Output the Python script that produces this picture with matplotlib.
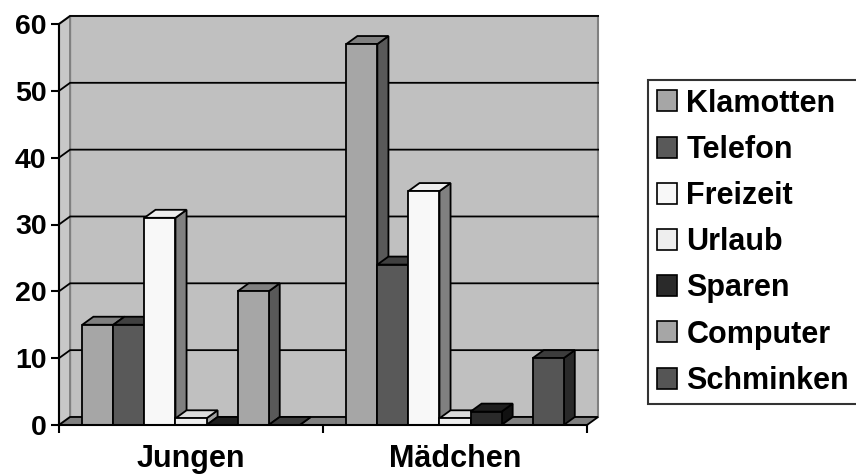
import matplotlib.pyplot as plt
from matplotlib.patches import Polygon, Patch

plt.rcParams['font.family'] = ['Liberation Sans', 'DejaVu Sans']
plt.rcParams['font.weight'] = 'bold'

# survey data: what boys and girls spend their money on
categories = ['Jungen', 'Mädchen']
series = ['Klamotten', 'Telefon', 'Freizeit', 'Urlaub', 'Sparen', 'Computer', 'Schminken']
values = {
    'Klamotten': [15, 57],
    'Telefon':   [15, 24],
    'Freizeit':  [31, 35],
    'Urlaub':    [1, 1],
    'Sparen':    [0, 2],
    'Computer':  [20, 0],
    'Schminken': [0, 10],
}
yticks = [0, 10, 20, 30, 40, 50, 60]

# (front, top, side) shades for each series
shades = {
    'Klamotten': ('#a6a6a6', '#808080', '#595959'),
    'Telefon':   ('#595959', '#404040', '#2e2e2e'),
    'Freizeit':  ('#f8f8f8', '#eeeeee', '#808080'),
    'Urlaub':    ('#eeeeee', '#dcdcdc', '#a0a0a0'),
    'Sparen':    ('#2a2a2a', '#1e1e1e', '#111111'),
    'Computer':  ('#a6a6a6', '#808080', '#595959'),
    'Schminken': ('#555555', '#3c3c3c', '#2a2a2a'),
}

fig = plt.figure(figsize=(8.56, 4.75), dpi=100)
ax = fig.add_axes([59 / 856, 50 / 475, 528 / 856, 401 / 475])
ax.set_xlim(0, 2)
ax.set_ylim(0, 60)

# depth of the pseudo-3d extrusion in data units
dx, dy = 0.042, 1.2
ymax = 60
xmax = len(categories)
edge = dict(edgecolor='black', linewidth=1.3, clip_on=False)

# back wall, side wall and floor
ax.add_patch(Polygon([(dx, dy), (xmax + dx, dy), (xmax + dx, ymax + dy), (dx, ymax + dy)],
                     facecolor='#c0c0c0', edgecolor='#808080', linewidth=1.5,
                     clip_on=False, zorder=0))
ax.add_patch(Polygon([(0, 0), (dx, dy), (dx, ymax + dy), (0, ymax)],
                     facecolor='#c8c8c8', edgecolor='#808080', linewidth=1.5,
                     clip_on=False, zorder=0))
ax.add_patch(Polygon([(0, 0), (xmax, 0), (xmax + dx, dy), (dx, dy)],
                     facecolor='#808080', edgecolor='black', linewidth=1.3,
                     clip_on=False, zorder=0.5))

# gridlines across side wall and back wall
for v in yticks[1:]:
    ax.plot([0, dx, xmax + dx], [v, v + dy, v + dy], color='black',
            linewidth=1.3, zorder=0.3, clip_on=False)

n = len(series)
w = 1 / (n + 1.5)
for j in range(len(categories)):
    for i, name in enumerate(series):
        v = values[name][j]
        front, top, side = shades[name]
        x0 = j + 0.75 * w + i * w
        x1 = x0 + w
        z = 2 + j * 10 + i
        ax.add_patch(Polygon([(x1, 0), (x1 + dx, dy), (x1 + dx, v + dy), (x1, v)],
                             facecolor=side, zorder=z, **edge))
        ax.add_patch(Polygon([(x0, v), (x1, v), (x1 + dx, v + dy), (x0 + dx, v + dy)],
                             facecolor=top, zorder=z, **edge))
        ax.add_patch(Polygon([(x0, 0), (x1, 0), (x1, v), (x0, v)],
                             facecolor=front, zorder=z, **edge))

# axes lines and ticks
for s in ['top', 'right']:
    ax.spines[s].set_visible(False)
ax.spines['left'].set_linewidth(1.5)
ax.spines['bottom'].set_linewidth(1.5)
ax.spines['left'].set_zorder(50)
ax.spines['bottom'].set_zorder(50)
ax.patch.set_visible(False)
ax.set_yticks(yticks)
ax.set_yticklabels([str(t) for t in yticks], fontsize=20.5, fontweight='bold')
ax.set_xticks(range(xmax + 1))
ax.set_xticklabels([])
ax.set_xticks([j + 0.5 for j in range(xmax)], minor=True)
ax.set_xticklabels(categories, minor=True, fontsize=22, fontweight='bold')
ax.tick_params(axis='y', direction='out', length=6, width=1.5, pad=3)
ax.tick_params(axis='x', which='major', direction='out', length=6, width=1.5)
ax.tick_params(axis='x', which='minor', length=0, pad=14)

handles = [Patch(facecolor=shades[s][0], edgecolor='black', linewidth=1.2) for s in series]
leg = fig.legend(handles, series, loc='upper left', bbox_to_anchor=(648 / 856, 1 - 80 / 475),
                 borderaxespad=0, fancybox=False, frameon=True, edgecolor='black',
                 prop={'size': 22, 'weight': 'bold'}, handlelength=0.68, handleheight=0.68,
                 handletextpad=0.3, labelspacing=0.53, borderpad=0.28)
leg.get_frame().set_linewidth(1.5)

fig.savefig('out.png', dpi=100, facecolor='white')
